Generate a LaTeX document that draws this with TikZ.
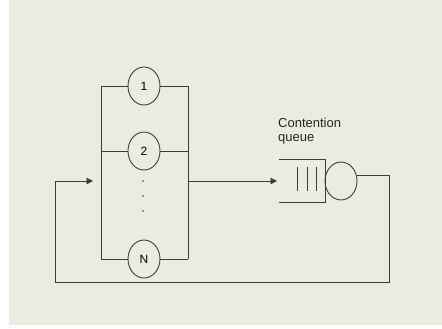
\documentclass[tikz,border=0pt]{standalone}
\usepackage{fontspec}
\setmainfont{Liberation Sans}
\usetikzlibrary{shapes.geometric,arrows.meta}
\definecolor{bgbeige}{HTML}{EBEBE0}
\definecolor{ln}{HTML}{3C3C3C}
\tikzset{
  wire/.style={draw=ln, line width=0.9pt},
  arr/.style={wire, -{Triangle[length=6.5pt,width=6.5pt]}},
  srv/.style={ellipse, draw=ln, line width=0.9pt, minimum width=32pt, minimum height=38pt, inner sep=0pt, font=\fontsize{12}{14}\selectfont},
  lbl/.style={align=left, inner sep=0pt, font=\fontsize{13}{14}\selectfont, text=black!85}
}
\begin{document}
\begin{tikzpicture}[x=1pt,y=-1pt]
\useasboundingbox (0,0) rectangle (442,329);
\fill[bgbeige] (9,0) rectangle (442,325);
% parallel servers
\node[srv] (c1) at (144,86) {1};
\node[srv] (c2) at (144,151) {2};
\node[srv] (cN) at (144,259) {N};
\coordinate (tl) at (101,86);
\coordinate (tr) at (188,86);
\coordinate (ml) at (101,151);
\coordinate (mr) at (188,151);
\coordinate (bl) at (101,259);
\coordinate (br) at (188,259);
\draw[wire] (tl) -- (bl);
\draw[wire] (tr) -- (br);
\draw[wire] (tl) -- (c1.west);
\draw[wire] (c1.east) -- (tr);
\draw[wire] (ml) -- (c2.west);
\draw[wire] (c2.east) -- (mr);
\draw[wire] (bl) -- (cN.west);
\draw[wire] (cN.east) -- (br);
\fill[ln] (143,181) circle (0.8);
\fill[ln] (143,196) circle (0.8);
\fill[ln] (143,211) circle (0.8);
% contention queue
\node[lbl, anchor=north west] (qlabel) at (278,118) {Contention\\queue};
\coordinate (qtl) at (279,159);
\coordinate (qtr) at (325,159);
\coordinate (qbr) at (325,202);
\coordinate (qbl) at (279,202);
\draw[wire] (qtl) -- (qtr) -- (qbr) -- (qbl);
\draw[wire] (297,167) -- (297,191);
\draw[wire] (307,167) -- (307,191);
\draw[wire] (316,167) -- (316,191);
\node[srv] (s) at (341,181) {};
% connectors
\coordinate (busout) at (188,181);
\coordinate (qin) at (277,181);
\draw[arr] (busout) -- (qin);
\coordinate (r1) at (389,282);
\coordinate (l1) at (55,282);
\coordinate (l2) at (55,181);
\coordinate (busin) at (93,181);
\draw[arr] (s.20) -| (r1) -- (l1) -- (l2) -- (busin);
\end{tikzpicture}
\end{document}
